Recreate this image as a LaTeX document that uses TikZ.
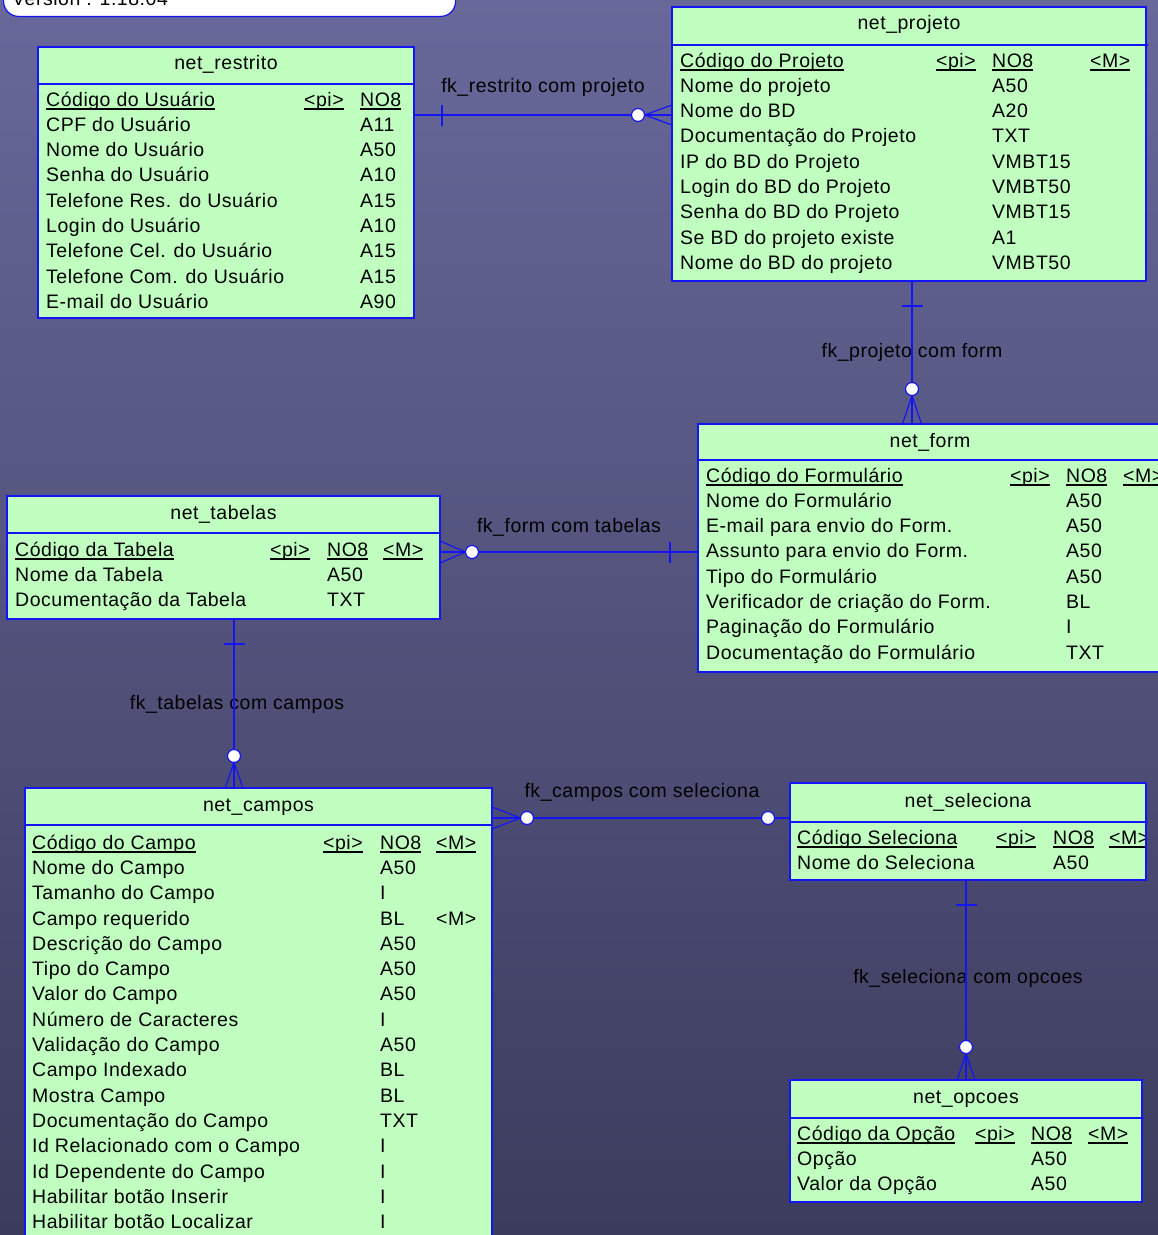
\documentclass[tikz,border=0pt]{standalone}
\usepackage{fontspec}
\setmainfont{Liberation Sans}[LetterSpace=2.7]
\usetikzlibrary{calc}
\definecolor{erblue}{RGB}{20,20,245}
\definecolor{erfill}{RGB}{192,255,192}
\definecolor{bgtop}{RGB}{104,104,154}
\definecolor{bgbot}{RGB}{60,60,94}
\newsavebox\pkbox
\newcommand\pk[1]{\sbox\pkbox{#1}\rlap{\rule[-3.8pt]{\wd\pkbox}{1.7pt}}\usebox\pkbox}
\newcommand\errows[5]{%
  \foreach \a/\b [count=\k from 0] in {#4} {%
    \node[txt] (#5n\k) at (#1,{#3+\k*25.33}) {\a};
    \node[txt] (#5t\k) at (#2,{#3+\k*25.33}) {\b};}}
\tikzset{
  tbl/.style={draw=erblue, line width=1.2pt, fill=erfill, rectangle, inner sep=0pt, outer sep=0pt, anchor=north west},
  ttl/.style={anchor=base, inner sep=0pt, text=black},
  txt/.style={anchor=base west, inner sep=0pt, text=black},
  lbl/.style={anchor=base, inner sep=0pt, text=black},
  sepl/.style={draw=erblue, line width=1.2pt},
  rel/.style={draw=erblue, line width=1.2pt},
  opt/.style={circle, draw=erblue, fill=white, line width=1.2pt, minimum size=13pt, inner sep=0pt, outer sep=0pt},
}
\begin{document}
\begin{tikzpicture}[x=1pt, y=-1pt, font=\fontsize{19.5}{23}\selectfont]
\useasboundingbox (0,0) rectangle (1158,1235);
\shade[top color=bgtop, bottom color=bgbot] (0,0) rectangle (1158,1235);

% version box
\node[draw=erblue, fill=white, line width=1.2pt, rounded corners=15pt, minimum width=452pt, minimum height=60pt, anchor=south west, inner sep=0pt] (version) at (3,17) {};
\node[txt] (versiontxt) at (12,5) {Version : 1.18.04};

% ---------- net_restrito
\node[tbl, minimum width=376pt, minimum height=271pt] (restrito) at (38,47) {};
\node[ttl] (restrito-t) at ($(restrito.north)+(0,22)$) {net\_restrito};
\draw[sepl] ($(restrito.north west)+(0,37)$) -- ($(restrito.north east)+(0,37)$);
\node[txt] (rpk) at (46,106) {\pk{Código do Usuário}};
\node[txt] (rpi) at (304,106) {\pk{<pi>}};
\node[txt] (rno) at (360,106) {\pk{NO8}};
\errows{46}{360}{131.33}{CPF do Usuário/A11, Nome do Usuário/A50, Senha do Usuário/A10, Telefone Res. do Usuário/A15, Login do Usuário/A10, Telefone Cel. do Usuário/A15, Telefone Com. do Usuário/A15, E-mail do Usuário/A90}{r}

% ---------- net_projeto
\node[tbl, minimum width=474pt, minimum height=274pt] (projeto) at (672,7) {};
\node[ttl] (projeto-t) at ($(projeto.north)+(0,22)$) {net\_projeto};
\draw[sepl] ($(projeto.north west)+(0,38)$) -- ($(projeto.north east)+(2,38)$);
\node[txt] (ppk) at (680,67) {\pk{Código do Projeto}};
\node[txt] (ppi) at (936,67) {\pk{<pi>}};
\node[txt] (pno) at (992,67) {\pk{NO8}};
\node[txt] (pm) at (1090,67) {\pk{<M>}};
\errows{680}{992}{92.33}{Nome do projeto/A50, Nome do BD/A20, Documentação do Projeto/TXT, IP do BD do Projeto/VMBT15, Login do BD do Projeto/VMBT50, Senha do BD do Projeto/VMBT15, Se BD do projeto existe/A1, Nome do BD do projeto/VMBT50}{p}

% ---------- net_form
\node[tbl, minimum width=464pt, minimum height=248pt] (form) at (698,424) {};
\node[ttl] (form-t) at ($(form.north)+(0,23)$) {net\_form};
\draw[sepl] ($(form.north west)+(0,36)$) -- ($(form.north east)+(0,36)$);
\node[txt] (fpk) at (706,482) {\pk{Código do Formulário}};
\node[txt] (fpi) at (1010,482) {\pk{<pi>}};
\node[txt] (fno) at (1066,482) {\pk{NO8}};
\node[txt] (fm) at (1123,482) {\pk{<M>}};
\errows{706}{1066}{507.33}{Nome do Formulário/A50, E-mail para envio do Form./A50, Assunto para envio do Form./A50, Tipo do Formulário/A50, Verificador de criação do Form./BL, Paginação do Formulário/I, Documentação do Formulário/TXT}{f}

% ---------- net_tabelas
\node[tbl, minimum width=433pt, minimum height=123pt] (tabelas) at (7,496) {};
\node[ttl] (tabelas-t) at ($(tabelas.north)+(0,23)$) {net\_tabelas};
\draw[sepl] ($(tabelas.north west)+(0,37)$) -- ($(tabelas.north east)+(0,37)$);
\node[txt] (tpk) at (15,556) {\pk{Código da Tabela}};
\node[txt] (tpi) at (270,556) {\pk{<pi>}};
\node[txt] (tno) at (327,556) {\pk{NO8}};
\node[txt] (tm) at (383,556) {\pk{<M>}};
\errows{15}{327}{581.33}{Nome da Tabela/A50, Documentação da Tabela/TXT}{t}

% ---------- net_campos
\node[tbl, minimum width=467pt, minimum height=470pt] (campos) at (25,788) {};
\node[ttl] (campos-t) at ($(campos.north)+(0,23)$) {net\_campos};
\draw[sepl] ($(campos.north west)+(0,37)$) -- ($(campos.north east)+(0,37)$);
\node[txt] (cpk) at (32,849) {\pk{Código do Campo}};
\node[txt] (cpi) at (323,849) {\pk{<pi>}};
\node[txt] (cno) at (380,849) {\pk{NO8}};
\node[txt] (cm) at (436,849) {\pk{<M>}};
\errows{32}{380}{874.33}{Nome do Campo/A50, Tamanho do Campo/I, Campo requerido/BL, Descrição do Campo/A50, Tipo do Campo/A50, Valor do Campo/A50, Número de Caracteres/I, Validação do Campo/A50, Campo Indexado/BL, Mostra Campo/BL, Documentação do Campo/TXT, Id Relacionado com o Campo/I, Id Dependente do Campo/I, Habilitar botão Inserir/I, Habilitar botão Localizar/I}{c}
\node[txt] (cm3) at (436,{849+3*25.33}) {<M>};

% ---------- net_seleciona
\node[tbl, minimum width=356pt, minimum height=97pt] (seleciona) at (790,783) {};
\node[ttl] (seleciona-t) at ($(seleciona.north)+(0,24)$) {net\_seleciona};
\draw[sepl] ($(seleciona.north west)+(0,39)$) -- ($(seleciona.north east)+(2,39)$);
\begin{scope}
\clip (seleciona.north west) rectangle (seleciona.south east);
\node[txt] (spk) at (797,844) {\pk{Código Seleciona}};
\node[txt] (spi) at (996,844) {\pk{<pi>}};
\node[txt] (sno) at (1053,844) {\pk{NO8}};
\node[txt] (sm) at (1109,844) {\pk{<M>}};
\errows{797}{1053}{869.33}{Nome do Seleciona/A50}{s}
\end{scope}
\draw[draw=erblue, line width=1.2pt] (seleciona.north west) rectangle (seleciona.south east);

% ---------- net_opcoes
\node[tbl, minimum width=352pt, minimum height=122pt] (opcoes) at (790,1080) {};
\node[ttl] (opcoes-t) at ($(opcoes.north)+(0,23)$) {net\_opcoes};
\draw[sepl] ($(opcoes.north west)+(0,38)$) -- ($(opcoes.north east)+(2,38)$);
\node[txt] (opk) at (797,1140) {\pk{Código da Opção}};
\node[txt] (opi) at (975,1140) {\pk{<pi>}};
\node[txt] (ono) at (1031,1140) {\pk{NO8}};
\node[txt] (om) at (1088,1140) {\pk{<M>}};
\errows{797}{1031}{1165.33}{Opção/A50, Valor da Opção/A50}{o}

% ---------- relationships
% 1 restrito - projeto
\coordinate (A1) at ($(restrito.north east)+(0,68)$);
\coordinate (B1) at ($(projeto.north west)+(0,108)$);
\draw[rel] (A1) -- (B1);
\draw[rel] ($(A1)+(28,-10.5)$) -- ++(0,21);
\node[opt] (o1) at ($(B1)+(-34,0)$) {};
\draw[rel] (o1.east) -- ($(B1)+(0,-10)$) (o1.east) -- ($(B1)+(0,10)$);
\node[lbl] (l1) at (543,92) {fk\_restrito com projeto};

% 2 projeto - form
\coordinate (A2) at ($(projeto.south west)+(240,0)$);
\coordinate (B2) at ($(form.north west)+(214,0)$);
\node[lbl] (l2) at (912,357) {fk\_projeto com form};
\draw[rel] (A2) -- (B2);
\draw[rel] ($(A2)+(-10.5,25)$) -- ++(21,0);
\node[opt] (o2) at ($(B2)+(0,-35)$) {};
\draw[rel] (o2.south) -- ($(B2)+(-9.5,0)$) (o2.south) -- ($(B2)+(9.5,0)$);

% 3 form - tabelas
\coordinate (A3) at ($(tabelas.north east)+(0,56)$);
\coordinate (B3) at ($(form.north west)+(0,128)$);
\draw[rel] (A3) -- (B3);
\draw[rel] ($(B3)+(-28,-10.5)$) -- ++(0,21);
\node[opt] (o3) at ($(A3)+(32,0)$) {};
\draw[rel] (o3.west) -- ($(A3)+(0,-11)$) (o3.west) -- ($(A3)+(0,11)$);
\node[lbl] (l3) at (569,532) {fk\_form com tabelas};

% 4 tabelas - campos
\coordinate (A4) at ($(tabelas.south west)+(227,0)$);
\coordinate (B4) at ($(campos.north west)+(209,0)$);
\node[lbl] (l4) at (237,709) {fk\_tabelas com campos};
\draw[rel] (A4) -- (B4);
\draw[rel] ($(A4)+(-10.5,25)$) -- ++(21,0);
\node[opt] (o4) at ($(B4)+(0,-32)$) {};
\draw[rel] (o4.south) -- ($(B4)+(-9,0)$) (o4.south) -- ($(B4)+(9,0)$);

% 5 campos - seleciona
\coordinate (A5) at ($(campos.north east)+(0,30)$);
\coordinate (B5) at ($(seleciona.north west)+(0,35)$);
\draw[rel] (A5) -- (B5);
\node[opt] (o5a) at ($(A5)+(35,0)$) {};
\draw[rel] (o5a.west) -- ($(A5)+(0,-11)$) (o5a.west) -- ($(A5)+(0,11)$);
\node[opt] (o5b) at ($(B5)+(-22,0)$) {};
\node[lbl] (l5) at (642,797) {fk\_campos com seleciona};

% 6 seleciona - opcoes
\coordinate (A6) at ($(seleciona.south west)+(176,0)$);
\coordinate (B6) at ($(opcoes.north west)+(176,0)$);
\node[lbl] (l6) at (968,983) {fk\_seleciona com opcoes};
\draw[rel] (A6) -- (B6);
\draw[rel] ($(A6)+(-10.5,25)$) -- ++(21,0);
\node[opt] (o6) at ($(B6)+(0,-33)$) {};
\draw[rel] (o6.south) -- ($(B6)+(-9,0)$) (o6.south) -- ($(B6)+(9,0)$);
\end{tikzpicture}
\end{document}
